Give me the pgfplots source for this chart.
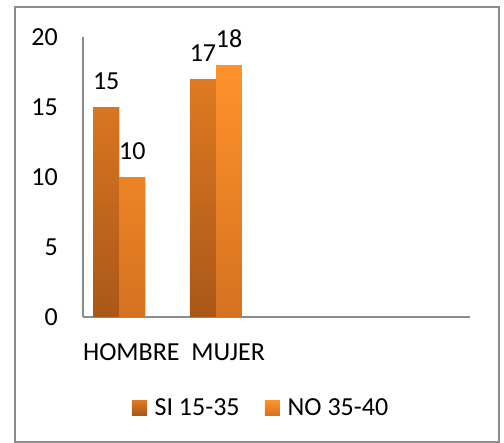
\documentclass[border=0pt]{standalone}
\usepackage{fontspec}
\setmainfont{Carlito}
\usepackage{pgfplots}
\pgfplotsset{compat=1.18}

\definecolor{siT}{HTML}{DE7A22}
\definecolor{siB}{HTML}{A95719}
\definecolor{noT}{HTML}{FF922B}
\definecolor{noB}{HTML}{D57220}
\definecolor{frame}{HTML}{8C8C8C}

\newcommand{\chartfont}{\fontsize{19.5}{23}\selectfont}

\begin{document}
\begin{tikzpicture}
\useasboundingbox (0,0) rectangle (378pt,332.25pt);
\draw[frame, line width=1.5pt] (11.25pt,0.75pt) rectangle (374.25pt,327pt);
\begin{axis}[
  at={(62.25pt,94.5pt)}, anchor=south west,
  scale only axis, width=290.25pt, height=210pt,
  xmin=-0.5, xmax=3.5, ymin=0, ymax=20,
  axis x line=bottom, axis y line=left,
  axis line style={-, frame, line width=1.2pt},
  major tick length=0pt,
  ytick={0,5,10,15,20},
  xtick={0,1}, xticklabels={HOMBRE,MUJER},
  tick label style={font=\chartfont},
  yticklabel style={anchor=east, inner sep=0pt, xshift=-18.75pt},
  xticklabel style={anchor=center, inner sep=0pt, yshift=-26.25pt},
  /pgf/number format/assume math mode=true,
  ybar, bar width=0.27,
  nodes near coords,
  nodes near coords style={font=\chartfont, text=black, anchor=south, inner sep=0pt, yshift=13pt},
  legend columns=2,
  legend style={at={(0.461,-0.325)}, anchor=center, draw=none, fill=none,
    font=\chartfont, /tikz/every even column/.append style={column sep=17pt}},
]
\addplot[draw=none, top color=siT, bottom color=siB, bar shift=-0.26,
  legend image code/.code={\shade[top color=siT, bottom color=siB] (0pt,-5.6pt) rectangle (11.25pt,5.6pt);
    \path (0pt,0pt) -- (15pt,0pt);}]
  coordinates {(0,15) (1,17)};
\addlegendentry{SI 15-35}
\addplot[draw=none, top color=noT, bottom color=noB, bar shift=0.01,
  legend image code/.code={\shade[top color=noT, bottom color=noB] (0pt,-5.6pt) rectangle (11.25pt,5.6pt);
    \path (0pt,0pt) -- (15pt,0pt);}]
  coordinates {(0,10) (1,18)};
\addlegendentry{NO 35-40}
\end{axis}
\end{tikzpicture}
\end{document}
